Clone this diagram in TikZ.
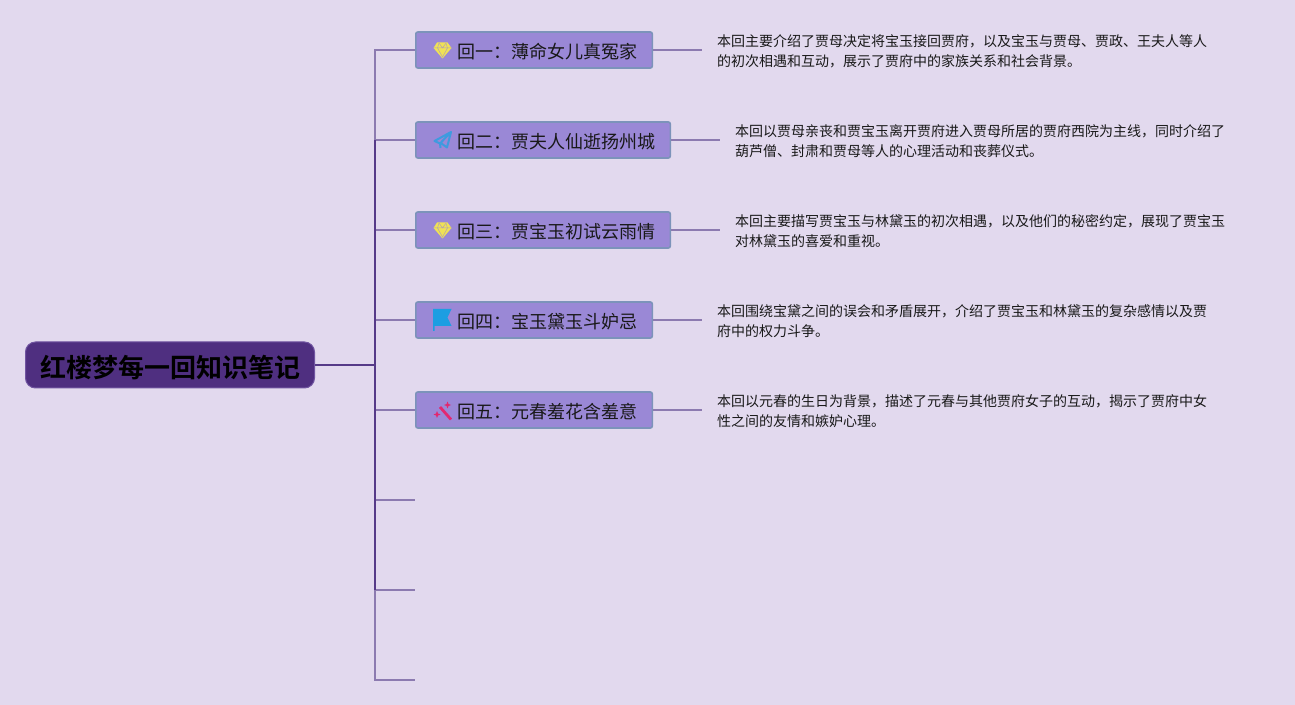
\documentclass[tikz,border=0pt]{standalone}
\usepackage{fontspec}
\setmainfont{Noto Sans CJK SC}[BoldFont={Noto Sans CJK SC Bold}]
\definecolor{bgpage}{RGB}{226,217,238}
\definecolor{rootfill}{RGB}{79,47,128}
\definecolor{rootedge}{RGB}{112,84,160}
\definecolor{boxfill}{RGB}{154,136,214}
\definecolor{boxedge}{RGB}{124,147,186}
\definecolor{linelight}{RGB}{140,122,176}
\definecolor{linedark}{RGB}{86,58,136}
\definecolor{gemyellow}{RGB}{240,226,84}
\definecolor{planeblue}{RGB}{62,155,223}
\definecolor{flagblue}{RGB}{28,158,226}
\definecolor{wandpink}{RGB}{226,40,112}
\tikzset{
  rootbox/.style={draw=rootedge,fill=rootfill,line width=0.5pt,rounded corners=5pt,anchor=west,inner sep=0pt,minimum width=144.5pt,minimum height=23pt,text height=12.5pt,text depth=0pt,text=black,font=\bfseries\fontsize{13}{15}\selectfont},
  huibox/.style={draw=boxedge,fill=boxfill,line width=0.8pt,rounded corners=1pt,anchor=west,inner xsep=7.25pt,inner ysep=0pt,minimum height=18pt,text height=8.5pt,text depth=0pt,text=black!90,font=\fontsize{9}{11}\selectfont},
  notetext/.style={inner sep=0pt,outer sep=0pt,anchor=west,align=left,text=black!90,font=\fontsize{7}{10}\selectfont},
  branch/.style={draw=linelight,line width=1pt},
  trunk/.style={draw=linedark,line width=1.25pt},
}
\begin{document}
\begin{tikzpicture}[x=.5pt,y=-.5pt]
\path[use as bounding box] (0,0) rectangle (1295,705);
\path[fill=bgpage,draw=none] (0,0) rectangle (1295,705);
\coordinate (fork) at (375,365);
\coordinate (top) at (375,50);
\coordinate (upper) at (375,140);
\coordinate (lower) at (375,590);
\coordinate (bottom) at (375,680);
\coordinate (spare6) at (415,500);
\coordinate (spare7) at (415,590);
\coordinate (spare8) at (415,680);
\coordinate (trunk3) at (375,230);
\coordinate (trunk4) at (375,320);
\coordinate (trunk5) at (375,410);
\coordinate (trunk6) at (375,500);
\node[rootbox] (root) at (25,365) {红楼梦每一回知识笔记};
\node[huibox] (hui1) at (415,50) {\hspace*{13.75pt}回一：薄命女儿真冤家};
\node[huibox] (hui2) at (415,140) {\hspace*{13.75pt}回二：贾夫人仙逝扬州城};
\node[huibox] (hui3) at (415,230) {\hspace*{13.75pt}回三：贾宝玉初试云雨情};
\node[huibox] (hui4) at (415,320) {\hspace*{13.75pt}回四：宝玉黛玉斗妒忌};
\node[huibox] (hui5) at (415,410) {\hspace*{13.75pt}回五：元春羞花含羞意};
\node[notetext] (note1) at (717,51) {本回主要介绍了贾母决定将宝玉接回贾府，以及宝玉与贾母、贾政、王夫人等人\\的初次相遇和互动，展示了贾府中的家族关系和社会背景。};
\node[notetext] (note2) at (735,141) {本回以贾母亲丧和贾宝玉离开贾府进入贾母所居的贾府西院为主线，同时介绍了\\葫芦僧、封肃和贾母等人的心理活动和丧葬仪式。};
\node[notetext] (note3) at (735,231) {本回主要描写贾宝玉与林黛玉的初次相遇，以及他们的秘密约定，展现了贾宝玉\\对林黛玉的喜爱和重视。};
\node[notetext] (note4) at (717,321.5) {本回围绕宝黛之间的误会和矛盾展开，介绍了贾宝玉和林黛玉的复杂感情以及贾\\府中的权力斗争。};
\node[notetext] (note5) at (717,411) {本回以元春的生日为背景，描述了元春与其他贾府女子的互动，揭示了贾府中女\\性之间的友情和嫉妒心理。};
\coordinate (tail1) at (702,50);
\coordinate (tail2) at (720,140);
\coordinate (tail3) at (720,230);
\coordinate (tail4) at (702,320);
\coordinate (tail5) at (702,410);
% branches
\draw[branch] (hui1.east) -- (tail1);
\draw[branch] (hui2.east) -- (tail2);
\draw[branch] (hui3.east) -- (tail3);
\draw[branch] (hui4.east) -- (tail4);
\draw[branch] (hui5.east) -- (tail5);
\draw[branch] (upper) -- (top) -- (hui1.west);
\draw[branch] (upper) -- (hui2.west);
\draw[branch] (trunk3) -- (hui3.west);
\draw[branch] (trunk4) -- (hui4.west);
\draw[branch] (trunk5) -- (hui5.west);
\draw[branch] (trunk6) -- (spare6);
\draw[branch] (lower) -- (spare7);
\draw[branch] (lower) -- (bottom) -- (spare8);
\draw[trunk] (upper) -- (lower);
\draw[trunk] (root.east) -- (fork);
% icons
\path[fill=gemyellow] (437,42.5) -- (447.5,42.5) -- (451.5,48) -- (442.5,58.5) -- (433.5,48) -- cycle;
\draw[boxfill!70!gemyellow,line width=0.25pt] (433.5,48) -- (451.5,48) (439,43) -- (437.5,48) -- (442.5,57) -- (447.5,48) -- (446,43) (439,43) -- (442.5,48) -- (446,43);
\path[fill=gemyellow] (437,222.5) -- (447.5,222.5) -- (451.5,228) -- (442.5,238.5) -- (433.5,228) -- cycle;
\draw[boxfill!70!gemyellow,line width=0.25pt] (433.5,228) -- (451.5,228) (439,223) -- (437.5,228) -- (442.5,237) -- (447.5,228) -- (446,223) (439,223) -- (442.5,228) -- (446,223);
\draw[planeblue,line width=1pt,line join=round] (451,132) -- (434.5,141) -- (440,143.5) -- (451,132) -- (447,147.5) -- (441.5,143.5) (440,143.5) -- (440.5,148);
\path[fill=flagblue] (433,309) -- (451.5,309) -- (447.5,317.5) -- (451.5,326) -- (434.5,326) -- (434.5,331) -- (433,331) -- cycle;
\draw[wandpink,line width=1.4pt] (440,407) -- (451,419.5);
\path[fill=wandpink] (447.5,401.5) -- (448.5,404) -- (451,405) -- (448.5,406) -- (447.5,408.5) -- (446.5,406) -- (444,405) -- (446.5,404) -- cycle;
\path[fill=wandpink] (437,411) -- (438,413.5) -- (440.5,414.5) -- (438,415.5) -- (437,418) -- (436,415.5) -- (433.5,414.5) -- (436,413.5) -- cycle;
\end{tikzpicture}
\end{document}
